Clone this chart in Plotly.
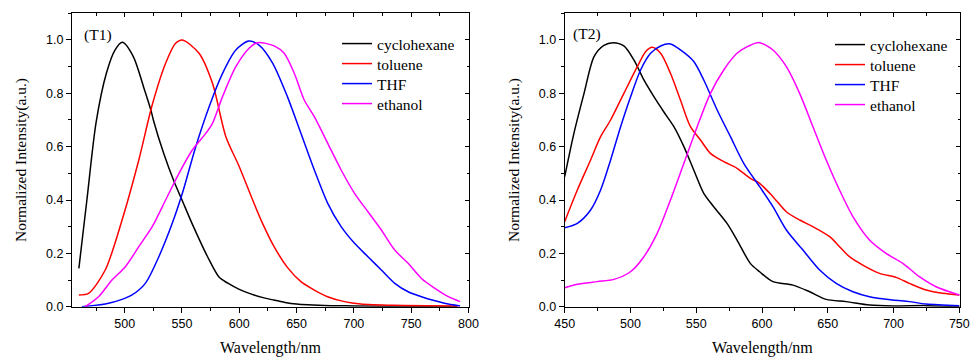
import plotly.graph_objects as go

# ---------------- T1 data ----------------
t1_cyc_x = [460, 467, 475, 484, 491.5, 498, 507.6, 516.4, 523, 525, 534, 543, 550, 560, 572, 582.5, 590, 600, 610, 620, 630, 640, 650, 660, 680, 700, 750, 790]
t1_cyc_y = [0.144, 0.40, 0.69, 0.875, 0.962, 0.991, 0.937, 0.825, 0.735, 0.70, 0.575, 0.47, 0.40, 0.30, 0.19, 0.11, 0.088, 0.065, 0.048, 0.035, 0.025, 0.016, 0.010, 0.007, 0.004, 0.003, 0.001, 0.0]

t1_tol_x = [460, 468.4, 483, 497.7, 512.3, 524, 535.7, 544.4, 550.3, 564.9, 576.6, 588.3, 600, 611.7, 620, 630, 642, 653.8, 665.5, 677, 691.8, 706, 735, 791]
t1_tol_y = [0.044, 0.05, 0.1375, 0.325, 0.55, 0.756, 0.9125, 0.9875, 1.0, 0.95, 0.8375, 0.6375, 0.525, 0.40, 0.315, 0.228, 0.1475, 0.094, 0.0625, 0.0375, 0.019, 0.010, 0.005, 0.0025]

t1_thf_x = [462.6, 483, 497.7, 506.4, 518, 529.8, 541.5, 550.3, 562, 573.7, 585.4, 597, 608.2, 617.5, 629.2, 642, 653.8, 665.5, 677.2, 688.9, 700.6, 712.3, 724, 735.7, 747.4, 759, 770.8, 782.5, 792.7]
t1_thf_y = [0.0, 0.01, 0.0275, 0.044, 0.0875, 0.1875, 0.3125, 0.425, 0.60, 0.75, 0.875, 0.9625, 0.996, 0.98, 0.9125, 0.7875, 0.65, 0.5125, 0.3875, 0.30, 0.2375, 0.1875, 0.1375, 0.0875, 0.056, 0.0375, 0.0225, 0.010, 0.0025]

t1_eth_x = [465.5, 477.2, 488.9, 500.6, 512.3, 524, 535.7, 547.4, 559, 570.8, 576.6, 585.4, 597, 608.8, 616, 630.4, 639.2, 648, 656.7, 665.5, 677.2, 688.9, 700.6, 712.3, 724, 735.7, 747.4, 759, 770.8, 782.5, 792.7]
t1_eth_y = [0.0, 0.0375, 0.10, 0.15, 0.225, 0.30, 0.40, 0.50, 0.5875, 0.65, 0.6875, 0.7875, 0.90, 0.97, 0.99, 0.978, 0.95, 0.875, 0.775, 0.7125, 0.6125, 0.5125, 0.425, 0.356, 0.2875, 0.2125, 0.1625, 0.106, 0.069, 0.0375, 0.019]

# ---------------- T2 data ----------------
t2_cyc_x = [450, 457, 464.7, 472.3, 479.8, 486.9, 495, 502.6, 510.2, 517.8, 525.4, 533, 540.6, 548.1, 555.7, 563.3, 573.4, 581, 591.1, 598.2, 608.3, 623.5, 636.2, 648.8, 664, 681.7, 699.5, 724.8, 750]
t2_cyc_y = [0.4875, 0.65, 0.80, 0.9375, 0.98, 0.99, 0.9775, 0.925, 0.85, 0.7875, 0.73, 0.675, 0.60, 0.5125, 0.425, 0.375, 0.3125, 0.25, 0.1625, 0.131, 0.094, 0.081, 0.056, 0.0275, 0.019, 0.006, 0.0025, 0.004, 0.0]

t2_tol_x = [450, 459.6, 469.7, 477.3, 484.9, 495, 505.2, 511.5, 516.5, 522.9, 530.4, 538, 545.6, 553.2, 560.8, 570.9, 581, 591.1, 598.2, 608.3, 618.5, 628.6, 638.7, 651.4, 658.9, 666.5, 676.6, 689.3, 701.9, 712, 724.7, 737.3, 750]
t2_tol_y = [0.319, 0.4375, 0.55, 0.6375, 0.70, 0.80, 0.90, 0.956, 0.9725, 0.95, 0.875, 0.775, 0.675, 0.625, 0.575, 0.544, 0.519, 0.481, 0.4625, 0.4125, 0.356, 0.325, 0.30, 0.2625, 0.225, 0.1875, 0.156, 0.125, 0.11, 0.0875, 0.0625, 0.05, 0.044]

t2_thf_x = [450, 459.6, 469.7, 477.3, 484.9, 492.5, 500.1, 507.7, 515.3, 522.9, 530.4, 538, 548.1, 555.7, 565.9, 576, 586.1, 598.2, 608.3, 618.5, 631.1, 643.8, 656.4, 669.1, 681.7, 699.4, 712, 724.7, 750]
t2_thf_y = [0.296, 0.3125, 0.3625, 0.4375, 0.55, 0.675, 0.7875, 0.8875, 0.95, 0.9775, 0.985, 0.9625, 0.919, 0.85, 0.7375, 0.6375, 0.5375, 0.45, 0.375, 0.2875, 0.2125, 0.1375, 0.0875, 0.056, 0.0375, 0.025, 0.019, 0.010, 0.004]

t2_eth_x = [450, 459.6, 474.8, 487.4, 500, 510.2, 520.3, 530.4, 540.6, 550.7, 560.8, 570.9, 581, 591.1, 598, 608.3, 618.5, 628.6, 638.7, 648.8, 658.9, 669.1, 681.7, 694.3, 707, 719.6, 732.3, 750]
t2_eth_y = [0.071, 0.084, 0.094, 0.1025, 0.131, 0.1875, 0.275, 0.40, 0.5375, 0.675, 0.80, 0.8875, 0.95, 0.98, 0.99, 0.9625, 0.90, 0.80, 0.675, 0.55, 0.4375, 0.3375, 0.25, 0.20, 0.1625, 0.1125, 0.075, 0.044]

names = ["cyclohexane", "toluene", "THF", "ethanol"]
colors = ["#000000", "#FF0000", "#0000FF", "#FF00FF"]

y_tickvals = [0.0, 0.2, 0.4, 0.6, 0.8, 1.0]
y_ticktext = ["0.0", "0.2", "0.4", "0.6", "0.8", "1.0"]
x1_tickvals = [500, 550, 600, 650, 700, 750, 800]
x2_tickvals = [450, 500, 550, 600, 650, 700, 750]
x1_range = [454, 800.5]
x2_range = [450, 750.5]
y_range = [0, 1.1]

panel_labels = ["(T1)", "(T2)"]
x_title = "Wavelength/nm"
y_title = "Normalized Intensity(a.u.)"

SERIF = "Liberation Serif, Times New Roman, serif"
SANS = "Liberation Sans, Arial, sans-serif"

W, H = 971, 358

# legend row positions (pixels from top) for each panel
leg1_rows = [44, 64, 84, 104]
leg2_rows = [45, 65, 85, 105]
leg1_x = 337
leg2_x = 830

fig = go.Figure()

t1 = [(t1_cyc_x, t1_cyc_y), (t1_tol_x, t1_tol_y), (t1_thf_x, t1_thf_y), (t1_eth_x, t1_eth_y)]
t2 = [(t2_cyc_x, t2_cyc_y), (t2_tol_x, t2_tol_y), (t2_thf_x, t2_thf_y), (t2_eth_x, t2_eth_y)]

legend_layout = {}
k = 1
for panel, (series, xa, ya, rows, lx) in enumerate([(t1, "x", "y", leg1_rows, leg1_x),
                                                    (t2, "x2", "y2", leg2_rows, leg2_x)]):
    for (xs, ys), n, c, ry in zip(series, names, colors, rows):
        lname = "legend" if k == 1 else f"legend{k}"
        fig.add_trace(go.Scatter(x=xs, y=ys, name=n, mode="lines", showlegend=True,
                                 line=dict(color=c, width=1.5, shape="spline", smoothing=0.8),
                                 xaxis=xa, yaxis=ya, legend=lname))
        legend_layout[lname] = dict(x=lx / W, y=1 - ry / H, xanchor="left", yanchor="middle",
                                    bgcolor="rgba(0,0,0,0)",
                                    font=dict(family=SERIF, size=15.5, color="black"),
                                    itemwidth=30, visible=True)
        k += 1

# empty traces for mirror axes (top/right inside ticks)
for xa, ya in [("x3", "y"), ("x", "y3"), ("x4", "y2"), ("x2", "y4")]:
    fig.add_trace(go.Scatter(x=[], y=[], xaxis=xa, yaxis=ya, showlegend=False, hoverinfo="skip"))

d1 = [72 / W, 469 / W]
d2 = [564.7 / W, 960 / W]
dy = [(H - 306.7) / H, (H - 13.3) / H]

common_x = dict(showline=True, linecolor="black", linewidth=1, ticks="outside", ticklen=5,
                tickcolor="black", tickwidth=1, showgrid=False, zeroline=False,
                tickfont=dict(family=SANS, size=12.5, color="black"),
                minor=dict(ticks="outside", ticklen=3, dtick=25, tickcolor="black", tickwidth=1),
                title=dict(text=x_title, font=dict(family=SERIF, size=16, color="black"), standoff=12))
common_y = dict(showline=True, linecolor="black", linewidth=1, ticks="outside", ticklen=5,
                tickcolor="black", tickwidth=1, showgrid=False, zeroline=False, range=y_range,
                tickvals=y_tickvals, ticktext=y_ticktext,
                tickfont=dict(family=SANS, size=12.5, color="black"),
                minor=dict(ticks="outside", ticklen=3, dtick=0.1, tickcolor="black", tickwidth=1),
                title=dict(text=y_title, font=dict(family=SERIF, size=15.5, color="black"), standoff=15))

mirror_x = dict(showline=True, linecolor="black", linewidth=1, ticks="inside", ticklen=4,
                tickcolor="black", showticklabels=False, showgrid=False, zeroline=False, side="top",
                minor=dict(ticks="inside", ticklen=2.5, dtick=25, tickcolor="black"))
mirror_y = dict(showline=True, linecolor="black", linewidth=1, ticks="inside", ticklen=4,
                tickcolor="black", showticklabels=False, showgrid=False, zeroline=False, side="right",
                range=y_range, tickvals=y_tickvals,
                minor=dict(ticks="inside", ticklen=2.5, dtick=0.1, tickcolor="black"))

fig.update_layout(
    width=W, height=H,
    showlegend=True,
    margin=dict(l=0, r=0, t=0, b=0, autoexpand=False),
    paper_bgcolor="white", plot_bgcolor="white",
    xaxis=dict(domain=d1, range=x1_range, tickvals=x1_tickvals, anchor="y", **common_x),
    yaxis=dict(domain=dy, anchor="x", **common_y),
    xaxis2=dict(domain=d2, range=x2_range, tickvals=x2_tickvals, anchor="y2", **common_x),
    yaxis2=dict(domain=dy, anchor="x2", **common_y),
    xaxis3=dict(overlaying="x", anchor="y", range=x1_range, tickvals=x1_tickvals, **mirror_x),
    yaxis3=dict(overlaying="y", anchor="x", **mirror_y),
    xaxis4=dict(overlaying="x2", anchor="y2", range=x2_range, tickvals=x2_tickvals, **mirror_x),
    yaxis4=dict(overlaying="y2", anchor="x2", **mirror_y),
    annotations=[
        dict(text=panel_labels[0], xref="paper", yref="paper", x=82 / W, y=1 - 35 / H,
             xanchor="left", yanchor="middle", showarrow=False,
             font=dict(family=SERIF, size=15.5, color="black")),
        dict(text=panel_labels[1], xref="paper", yref="paper", x=571 / W, y=1 - 34 / H,
             xanchor="left", yanchor="middle", showarrow=False,
             font=dict(family=SERIF, size=15.5, color="black")),
    ],
    **legend_layout,
)

fig.write_html("out.html")
